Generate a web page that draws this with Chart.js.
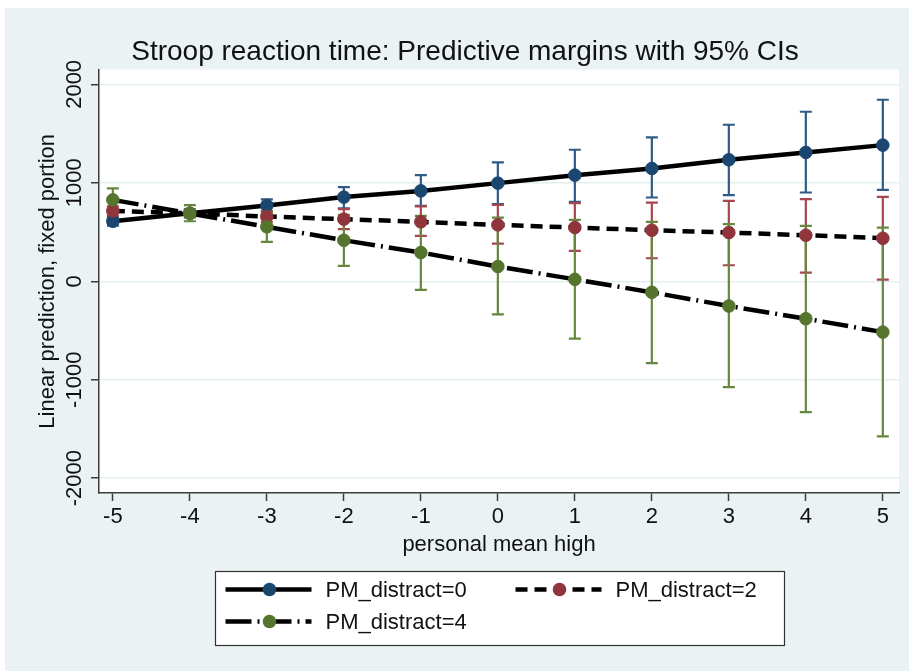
<!DOCTYPE html>
<html>
<head>
<meta charset="utf-8">
<script src="https://cdn.jsdelivr.net/npm/chart.js@4.4.1/dist/chart.umd.min.js"></script>
<style>
  html, body { margin: 0; padding: 0; background: #fff; }
  #wrap { position: absolute; left: 5px; top: 8px; width: 904px; height: 663px; background: #eaf2f3; }
</style>
</head>
<body>
<div id="wrap"><canvas id="marginsChart" width="904" height="663"></canvas></div>
<script>
// personal mean high values on the x axis
const xValues = [-5, -4, -3, -2, -1, 0, 1, 2, 3, 4, 5];
const xTickLabels = ['-5', '-4', '-3', '-2', '-1', '0', '1', '2', '3', '4', '5'];
const yTicks = [-2000, -1000, 0, 1000, 2000];
const yTickLabels = ['-2000', '-1000', '0', '1000', '2000'];
const seriesLabels = ['PM_distract=0', 'PM_distract=2', 'PM_distract=4'];

// predictive margins with lower / upper 95% CI
const margin0 = [610, 690, 770, 855, 918, 997, 1078, 1146, 1234, 1309, 1383];
const ciLow0 = [565, 650, 707, 742, 766, 783, 807, 851, 875, 902, 929];
const ciHigh0 = [655, 730, 833, 956, 1078, 1207, 1336, 1462, 1590, 1722, 1844];

const margin2 = [715, 690, 658, 631, 604, 573, 546, 519, 495, 468, 437];
const ciLow2 = [668, 655, 603, 529, 461, 383, 308, 234, 163, 88, 17];
const ciHigh2 = [762, 725, 713, 732, 760, 777, 793, 800, 817, 834, 858];

const margin4 = [827, 690, 553, 417, 292, 150, 20, -112, -251, -380, -516];
const ciLow4 = [712, 610, 400, 156, -88, -336, -583, -831, -1075, -1329, -1574];
const ciHigh4 = [943, 773, 706, 675, 664, 647, 623, 603, 580, 563, 546];

const FONT = "'Liberation Sans', Arial, Helvetica, sans-serif";
Chart.defaults.font.family = FONT;
Chart.defaults.font.size = 22;
Chart.defaults.color = '#111';

function toPoints(values) {
    return xValues.map((x, i) => ({ x: x, y: values[i] }));
}

// white plot region
const plotBackground = {
    id: 'plotBackground',
    beforeDraw(chart) {
        const { ctx, chartArea } = chart;
        ctx.save();
        ctx.fillStyle = '#ffffff';
        ctx.fillRect(chartArea.left, chartArea.top, chartArea.right - chartArea.left, chartArea.bottom - chartArea.top);
        ctx.restore();
    }
};

// capped CI spikes, drawn under the lines
const ciBars = {
    id: 'ciBars',
    beforeDatasetsDraw(chart) {
        const { ctx, scales: { x, y } } = chart;
        ctx.save();
        ctx.lineWidth = 2.2;
        chart.data.datasets.forEach(ds => {
            ctx.strokeStyle = ds.ciColor;
            xValues.forEach((xv, i) => {
                const px = x.getPixelForValue(xv);
                const pLo = y.getPixelForValue(ds.ciLow[i]);
                const pHi = y.getPixelForValue(ds.ciHigh[i]);
                ctx.beginPath();
                ctx.moveTo(px, pLo);
                ctx.lineTo(px, pHi);
                ctx.moveTo(px - 6, pLo);
                ctx.lineTo(px + 6, pLo);
                ctx.moveTo(px - 6, pHi);
                ctx.lineTo(px + 6, pHi);
                ctx.stroke();
            });
        });
        ctx.restore();
    }
};

// boxed legend, two columns, line with marker in the middle
const boxLegend = {
    id: 'boxLegend',
    afterDraw(chart) {
        const { ctx, chartArea } = chart;
        const boxW = 569, boxH = 74;
        const left = Math.round((chartArea.left + chartArea.right) / 2 - boxW / 2) + 0.5;
        const top = Math.round(chartArea.bottom + 78) + 0.5;
        ctx.save();
        ctx.fillStyle = '#ffffff';
        ctx.fillRect(left, top, boxW, boxH);
        ctx.strokeStyle = '#333';
        ctx.lineWidth = 1.2;
        ctx.strokeRect(left, top, boxW, boxH);
        chart.data.datasets.forEach((ds, i) => {
            const col = i % 2, row = Math.floor(i / 2);
            const x0 = left + 10 + col * 290;
            const y0 = top + 18 + row * 32;
            ctx.setLineDash(ds.borderDash || []);
            ctx.strokeStyle = ds.borderColor;
            ctx.lineWidth = ds.borderWidth;
            ctx.beginPath();
            ctx.moveTo(x0, y0);
            ctx.lineTo(x0 + 86, y0);
            ctx.stroke();
            ctx.setLineDash([]);
            ctx.fillStyle = ds.pointBackgroundColor;
            ctx.beginPath();
            ctx.arc(x0 + 44, y0, 6.8, 0, Math.PI * 2);
            ctx.fill();
            ctx.fillStyle = '#111';
            ctx.font = '22px ' + FONT;
            ctx.textBaseline = 'middle';
            ctx.textAlign = 'left';
            ctx.fillText(ds.label, x0 + 100, y0 + 1);
        });
        ctx.restore();
    }
};

function lineDataset(label, values, lo, hi, markerColor, ciColor, dash, order) {
    return {
        label: label,
        data: toPoints(values),
        ciLow: lo,
        ciHigh: hi,
        ciColor: ciColor,
        borderColor: '#000',
        borderWidth: 4.5,
        borderDash: dash,
        backgroundColor: markerColor,
        pointBackgroundColor: markerColor,
        pointBorderColor: markerColor,
        pointBorderWidth: 1,
        pointRadius: 6.3,
        tension: 0,
        fill: false,
        order: order
    };
}

const ctx = document.getElementById('marginsChart').getContext('2d');
const marginsChart = new Chart(ctx, {
    type: 'line',
    data: {
        datasets: [
            lineDataset(seriesLabels[0], margin0, ciLow0, ciHigh0, '#1a476f', '#2f5b86', [], 3),
            lineDataset(seriesLabels[1], margin2, ciLow2, ciHigh2, '#90353b', '#a8464f', [12, 7], 2),
            lineDataset(seriesLabels[2], margin4, ciLow4, ciHigh4, '#55752f', '#65873f', [26, 6, 2, 6], 1)
        ]
    },
    options: {
        responsive: false,
        animation: false,
        layout: { padding: { left: 26, right: 10, top: 0, bottom: 108 } },
        plugins: {
            legend: { display: false },
            tooltip: { enabled: false },
            title: {
                display: true,
                text: 'Stroop reaction time: Predictive margins with 95% CIs',
                color: '#111',
                font: { size: 28, weight: 'normal' },
                padding: { top: 27, bottom: 1 }
            }
        },
        scales: {
            x: {
                type: 'linear',
                min: -5.18,
                max: 5.21,
                afterBuildTicks: axis => { axis.ticks = xValues.map(v => ({ value: v })); },
                afterFit: axis => { axis.height = 70; },
                ticks: {
                    maxRotation: 0,
                    padding: 3,
                    color: '#111',
                    callback: (value, index) => xTickLabels[index]
                },
                grid: { drawOnChartArea: false, tickColor: '#3c3c3c', tickLength: 8, tickWidth: 1.5 },
                border: { color: '#3c3c3c', width: 1.5 },
                title: { display: true, text: 'personal mean high', color: '#111', padding: { top: 0, bottom: 5 } }
            },
            y: {
                type: 'linear',
                min: -2150,
                max: 2150,
                afterBuildTicks: axis => { axis.ticks = yTicks.map(v => ({ value: v })); },
                afterFit: axis => { axis.width = 68; },
                ticks: {
                    minRotation: 90,
                    maxRotation: 90,
                    crossAlign: 'center',
                    padding: -12,
                    color: '#111',
                    callback: (value, index) => yTickLabels[index]
                },
                grid: { color: '#e4eef0', lineWidth: 1.5, tickColor: '#3c3c3c', tickLength: 8, tickWidth: 1.5 },
                border: { color: '#3c3c3c', width: 1.5 },
                title: { display: true, text: 'Linear prediction, fixed portion', color: '#111', padding: { top: 4, bottom: 0 } }
            }
        }
    },
    plugins: [plotBackground, ciBars, boxLegend]
});
</script>
</body>
</html>
